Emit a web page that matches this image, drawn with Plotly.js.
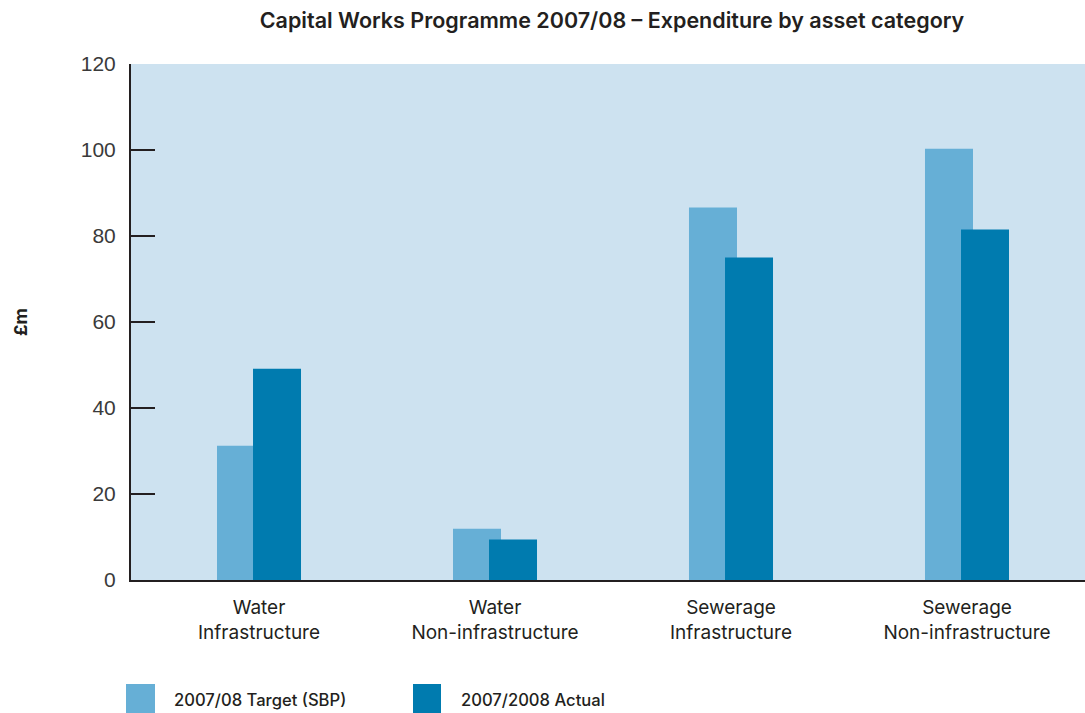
<!DOCTYPE html>
<html>
<head>
<meta charset="utf-8">
<script src="https://cdn.plot.ly/plotly-3.0.1.min.js"></script>
<style>
html, body { margin: 0; padding: 0; background: #ffffff; }
#chart { width: 1085px; height: 713px; }
</style>
</head>
<body>
<div id="chart"></div>
<script>
// ---- data ----
const categories = ["Water<br>Infrastructure", "Water<br>Non-infrastructure", "Sewerage<br>Infrastructure", "Sewerage<br>Non-infrastructure"];
const targetValues = [31.2, 11.9, 86.6, 100.3];
const actualValues = [49.1, 9.4, 75.0, 81.5];
const seriesNames = ["2007/08 Target (SBP)", "2007/2008 Actual"];
const yTickValues = [0, 20, 40, 60, 80, 100, 120];
const chartTitle = "Capital Works Programme 2007/08 \u2013 Expenditure by asset category";
const yAxisTitle = "\u00a3m";

// ---- styling ----
const colTarget = "#66afd6";
const colActual = "#007baf";
const ink = "#231f20";
const catFont = "Inter, 'DejaVu Sans', sans-serif";

const idx = categories.map((_, i) => i);

const traces = [
  {
    type: "bar", name: seriesNames[0], x: idx, y: targetValues,
    offset: -0.178, width: 0.2034,
    marker: { color: colTarget, line: { width: 0 } },
    showlegend: false, hoverinfo: "y"
  },
  {
    type: "bar", name: seriesNames[1], x: idx, y: actualValues,
    offset: -0.0254, width: 0.2034,
    marker: { color: colActual, line: { width: 0 } },
    showlegend: false, hoverinfo: "y"
  }
];

// legend drawn as swatches + labels below the plot
const legendSwatchX = [[126, 155], [413, 441]];
const legendTextX = [172, 459];
const W = 1085, H = 713, L = 131, R = 0, T = 64, B = 133;
const pw = W - L - R, ph = H - T - B;
const px2x = p => (p - L) / pw;
const py2y = p => (H - B - p) / ph;

const shapes = seriesNames.map((n, i) => ({
  type: "rect", xref: "paper", yref: "paper",
  x0: px2x(legendSwatchX[i][0]), x1: px2x(legendSwatchX[i][1]),
  y0: py2y(713), y1: py2y(684),
  fillcolor: i === 0 ? colTarget : colActual, line: { width: 0 }, layer: "above"
}));
const annotations = seriesNames.map((n, i) => ({
  text: n, xref: "paper", yref: "paper",
  x: px2x(legendTextX[i]), y: py2y(700), xanchor: "left", yanchor: "middle",
  showarrow: false,
  font: { family: catFont, size: 16.6, color: ink, weight: 500 }
}));

const layout = {
  width: W, height: H,
  margin: { l: L, r: R, t: T, b: B, pad: 0 },
  paper_bgcolor: "#ffffff",
  plot_bgcolor: "#cde2f0",
  barmode: "overlay",
  title: {
    text: chartTitle,
    font: { family: catFont, size: 21.5, color: ink, weight: 600 },
    xref: "container", x: 612 / W, xanchor: "center",
    yref: "container", y: 1 - 20 / H, yanchor: "middle"
  },
  xaxis: {
    range: [-0.5424, 3.5],
    tickvals: idx, ticktext: categories,
    ticks: "", showgrid: false, zeroline: false,
    showline: true, linewidth: 2, linecolor: ink,
    tickfont: { family: catFont, size: 19, color: ink },
    ticklabelstandoff: 9,
    fixedrange: true
  },
  yaxis: {
    range: [0, 120],
    tickvals: yTickValues,
    ticks: "inside", ticklen: 24, tickwidth: 2, tickcolor: ink,
    showgrid: false, zeroline: false,
    showline: true, linewidth: 2, linecolor: ink,
    tickfont: { family: "'Liberation Sans', Arial, sans-serif", size: 21, color: "#3a3a3a" },
    ticklabelstandoff: 9,
    title: { text: yAxisTitle, font: { family: catFont, size: 18, color: ink, weight: 700 }, standoff: 48 },
    automargin: false,
    fixedrange: true
  },
  shapes: shapes,
  annotations: annotations,
  showlegend: false
};

Plotly.newPlot("chart", traces, layout, { displayModeBar: false, staticPlot: true });
</script>
</body>
</html>
